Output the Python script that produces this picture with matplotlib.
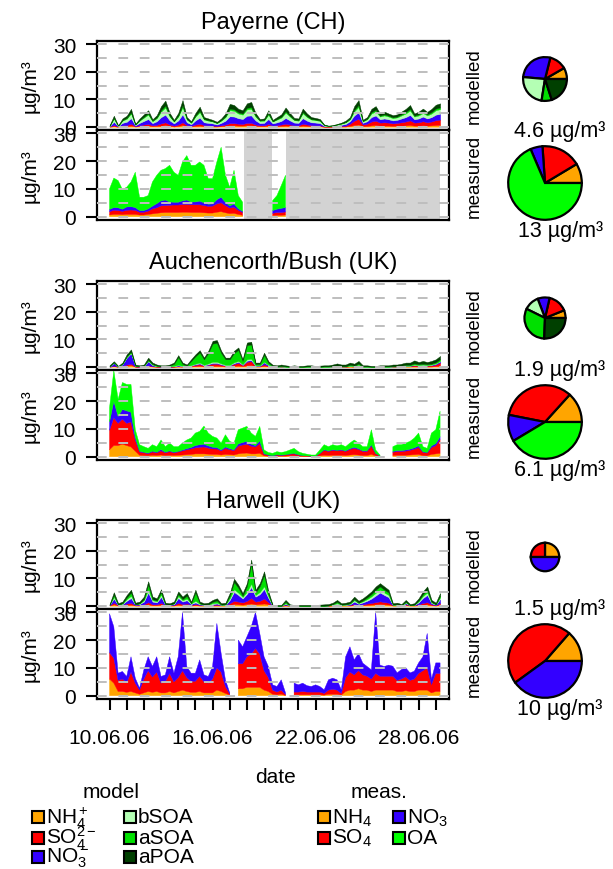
import numpy as np
import matplotlib
matplotlib.use("Agg")
import matplotlib.pyplot as plt
from matplotlib.patches import Rectangle

plt.rcParams['font.family'] = ['Liberation Sans', 'DejaVu Sans']
plt.rcParams['mathtext.fontset'] = 'custom'
plt.rcParams['mathtext.rm'] = 'Liberation Sans'
plt.rcParams['mathtext.it'] = 'Liberation Sans:italic'

nan = float('nan')

# -- time axis: 6-hourly values, day of June 2006
days = np.arange(10.0, 29.26, 0.25)
date_ticks = list(range(10, 30))
date_labels = {10: '10.06.06', 16: '16.06.06', 22: '22.06.06', 28: '28.06.06'}

sites = ['Payerne (CH)', 'Auchencorth/Bush (UK)', 'Harwell (UK)']

mod_names = ['NH$_4^+$', 'SO$_4^{2-}$', 'NO$_3^-$', 'bSOA', 'aSOA', 'aPOA']
mod_colors = ['#ffa500', '#ff0000', '#3300ff', '#b4ffb4', '#00e000', '#004000']
meas_names = ['NH$_4$', 'SO$_4$', 'NO$_3$', 'OA']
meas_colors = ['#ffa500', '#ff0000', '#3300ff', '#00ff00']

# -- Payerne, modelled (ug/m3)
pay_mod_nh4 = [0, .2, 0, .2, .2, .4, .1, .2, .3, .4, .2, .3, .4, .6, .3, .1, .3, .6, .2, .1,
               .3, .4, .2, .2, .1, .1, .2, .3, .5, .5, .4, .4, .5, .5, .3, .2, .2, .4, .1, .2,
               .3, .4, .3, .2, .2, .4, .3, .2, .2, .2, 0, 0, 0, .1, .1, .1, .3, .6, .8, .2,
               .3, .5, .6, .4, .4, .4, .3, .4, .4, .5, .6, .4, .4, .5, .4, .5, .6, .7]
pay_mod_so4 = [.1, .4, .1, .3, .4, .7, .1, .3, .5, .6, .3, .4, .8, 1.0, .5, .3, .5, 1.0, .4, .2,
               .5, .7, .4, .3, .3, .2, .3, .5, .8, .8, .7, .6, .9, .9, .5, .3, .3, .6, .3, .4,
               .5, .7, .5, .3, .3, .7, .5, .4, .3, .3, .1, .1, .1, .1, .2, .3, .8, 1.6, 2.1, .6,
               .8, 1.4, 1.6, 1.1, 1.2, 1.1, .9, 1.0, 1.2, 1.4, 1.7, 1.1, 1.2, 1.5, 1.2, 1.4, 1.8, 1.9]
pay_mod_no3 = [.1, 1.2, .1, .9, 1.2, 2.0, .3, .9, 1.3, 1.8, .8, 1.3, 2.3, 2.8, 1.5, .8, 1.5, 2.9, 1.0, .6,
               1.5, 2.2, 1.0, .9, .8, .5, .9, 1.4, 2.5, 2.4, 2.0, 1.8, 2.6, 2.7, 1.5, .8, .9, 1.8, .8, 1.0,
               1.3, 2.1, 1.5, 1.0, .9, 2.0, 1.4, 1.0, 1.0, .8, .2, .1, .1, .3, .4, .6, .9, 1.9, 2.4, .6,
               .9, 1.6, 1.9, 1.2, 1.4, 1.2, 1.1, 1.1, 1.4, 1.6, 2.0, 1.2, 1.4, 1.7, 1.4, 1.6, 2.0, 2.1]
pay_mod_bsoa = [.1, 1.1, .1, .8, 1.1, 1.7, .3, .8, 1.2, 1.6, .7, 1.1, 2.0, 2.6, 1.4, .7, 1.4, 2.6, 1.0, .5,
                1.4, 2.0, 1.0, .8, .7, .5, .8, 1.3, 2.2, 2.1, 1.7, 1.6, 2.3, 2.4, 1.4, .8, .8, 1.6, .7, 1.0,
                1.2, 1.9, 1.4, .9, .8, 1.8, 1.3, 1.0, .9, .8, .2, .1, .2, .3, .4, .6, .7, 1.5, 1.9, .5,
                .7, 1.3, 1.5, 1.0, 1.1, 1.0, .8, .9, 1.1, 1.3, 1.6, 1.0, 1.1, 1.3, 1.1, 1.3, 1.6, 1.7]
pay_mod_asoa = [0, .3, 0, .2, .3, .4, 0, .2, .3, .4, .2, .3, .5, .7, .3, .1, .3, .7, .2, .2,
                .3, .5, .2, .2, .1, .1, .2, .3, .6, .5, .4, .4, .6, .6, .3, .2, .2, .4, .1, .2,
                .3, .5, .3, .2, .2, .4, .3, .2, .2, .2, .1, 0, 0, 0, .1, .1, .2, .5, .7, .2,
                .2, .5, .5, .3, .4, .3, .3, .3, .4, .5, .6, .3, .4, .5, .4, .5, .6, .6]
pay_mod_apoa = [.2, .8, .2, .6, .8, 1.3, .2, .6, .9, 1.2, .5, .8, 1.5, 1.8, 1.0, .5, 1.0, 1.9, .7, .4,
                1.0, 1.5, .7, .6, .5, .4, .6, 1.0, 1.7, 1.6, 1.3, 1.2, 1.6, 1.9, 1.0, .5, .6, 1.2, .5, .7,
                .9, 1.4, 1.0, .6, .6, 1.3, 1.0, .7, .6, .5, .2, .1, .2, .2, .3, .5, .6, 1.4, 1.8, .4,
                .6, 1.2, 1.4, .8, 1.0, .8, .8, .8, 1.0, 1.2, 1.4, .8, 1.0, 1.1, .9, 1.2, 1.4, 1.5]

# -- Payerne, measured (nan = no data)
pay_meas_nh4 = ([.6, .8, .8, .7, .8, .8, .8, .6, .6, .8, 1.0, 1.2, 1.4, 1.5, 1.5, 1.5, 1.5, 1.6, 1.6, 1.5,
                 1.5, 1.5, 1.4, 1.3, 1.3, 1.6, 1.8, 1.4, 1.1, 1.2, .8, .5] + [nan] * 6
                + [.4, .5, .5, .6] + [nan] * 36)
pay_meas_so4 = ([1.2, 1.5, 1.4, 1.2, 1.5, 1.6, 1.5, 1.0, 1.0, 1.2, 1.8, 2.0, 2.5, 2.5, 2.6, 2.7, 2.7, 2.8, 2.8, 2.8,
                 2.8, 2.8, 2.6, 2.4, 2.5, 3.0, 3.2, 2.6, 2.0, 2.2, 1.5, 1.0] + [nan] * 6
                + [.8, 1.0, 1.0, 1.1] + [nan] * 36)
pay_meas_no3 = ([.8, 1.0, 1.0, .8, 1.2, 1.2, 1.0, .6, .6, .8, 1.0, 1.5, 1.8, 2.0, 1.2, 1.0, 1.0, 1.3, 1.6, 1.0,
                 1.0, 1.3, 1.0, .8, .8, 1.5, 2.0, 1.2, .8, 1.2, .6, .4] + [nan] * 6
                + [1.0, 1.2, 1.5, 1.6] + [nan] * 36)
pay_meas_oa = ([7.4, 10.6, 9.8, 7.1, 7.1, 8.9, 12.7, 4.8, 4.8, 4.8, 8.7, 10.2, 11.0, 11.3, 13.2, 10.8, 9.7, 14.0, 16.0, 13.2,
                13.2, 14.1, 13.5, 9.2, 9.1, 13.6, 18.0, 9.8, 6.7, 12.1, 4.7, 3.3] + [nan] * 6
               + [3.6, 4.9, 8.2, 11.6] + [nan] * 36)
pay_meas_gaps = [(17.85, 19.45), (20.3, 29.25)]

# -- Auchencorth/Bush, modelled
auc_mod_nh4 = [0, .2, 0, .1, .4, .6, 0, 0, 0, .2, .1, 0, 0, 0, 0, 0, .1, 0, 0, .1,
               .2, .3, .1, .2, .3, .3, .2, .1, .1, .3, .4, .2, .5, .6, .1, .1, .3, .1, 0, 0,
               0, 0, 0, 0, 0, 0, 0, 0, 0, 0, 0, 0, 0, 0, 0, 0, .1, 0, .1, 0,
               0, 0, 0, 0, 0, 0, 0, 0, 0, .1, .1, .1, .1, .1, .1, .1, .2, .3]
auc_mod_so4 = [0, .2, 0, .2, .4, .5, .1, 0, .1, .3, .1, .1, 0, 0, 0, .1, .2, .1, 0, .3,
               .5, .6, .3, .5, .8, .8, .5, .3, .3, .7, 1.0, .4, 1.3, 1.4, .2, .2, .6, .2, .1, 0,
               .1, 0, 0, 0, 0, 0, 0, 0, 0, 0, 0, 0, .1, .1, .1, .1, .2, .1, .2, 0,
               0, 0, 0, 0, 0, 0, .1, .1, .1, .2, .2, .4, .3, .4, .3, .4, .6, 1.2]
auc_mod_no3 = [.1, 1.0, 0, .6, 2.5, 3.8, .2, .1, .2, 1.5, .4, .1, .1, .1, .1, .1, .2, .1, .1, .1,
               .2, .3, .1, .2, .3, .3, .2, .1, .1, .3, .4, .1, .4, .4, .1, .1, .7, .3, 0, 0,
               0, 0, 0, 0, 0, 0, 0, 0, 0, 0, 0, 0, 0, .1, 0, 0, .1, .1, .3, 0,
               0, 0, 0, 0, 0, 0, 0, 0, .1, .1, .1, .2, .1, .2, .1, .2, .3, .5]
auc_mod_bsoa = [0, .1, 0, .1, .2, .2, 0, 0, 0, .2, .1, 0, 0, 0, .1, .1, .2, .1, .1, .1,
                .2, .3, .2, .3, .4, .4, .3, .2, .2, .3, .3, .2, .5, .5, .1, .1, .2, .1, 0, 0,
                0, 0, 0, 0, 0, 0, 0, 0, 0, 0, 0, 0, 0, 0, 0, 0, 0, 0, .1, 0,
                0, 0, 0, 0, 0, 0, 0, 0, 0, 0, 0, .1, .1, .1, .1, .1, .1, .1]
auc_mod_asoa = [.1, .1, .1, .1, .3, .4, .1, .1, .1, .3, .3, .2, .1, .1, .2, .7, 2.8, .7, .2, 1.5,
                2.7, 3.7, 2.0, 3.8, 6.6, 6.9, 3.8, 2.0, 2.0, 3.4, 4.0, 1.2, 5.1, 5.2, .5, .5, 2.5, .7, .2, .1,
                .2, .1, 0, .1, 0, 0, .1, .1, 0, 0, .1, .1, .1, .2, .1, .1, .3, .2, .4, .1,
                .1, 0, 0, .1, .1, .1, .1, .1, .2, .3, .3, .4, .3, .3, .3, .3, .4, .6]
auc_mod_apoa = [.3, .4, .2, .4, .7, .8, .4, .3, .4, .8, .5, .4, .3, .3, .4, .5, .7, .5, .4, .6,
                .7, .8, .6, .8, 1.0, 1.0, .8, .6, .6, .8, .9, .6, 1.0, 1.0, .5, .5, .8, .6, .4, .4,
                .5, .4, .3, .4, .3, .3, .4, .4, .3, .4, .4, .4, .6, .8, .6, .6, .8, .7, 1.0, .4,
                .4, .3, .3, .4, .4, .4, .6, .6, .7, .8, .8, 1.1, .8, 1.0, .8, 1.0, 1.1, 1.2]

# -- Auchencorth/Bush, measured
auc_meas_nh4 = [2.5, 4.0, 4.0, 4.5, 4.0, 3.5, 2.0, .5, .4, .3, .5, .4, .6, .4, .5, .4, .5, .6, .7, .8,
                1.0, 1.0, 1.0, .9, .8, .8, .6, .8, .7, .6, 1.0, 1.2, 1.3, 1.0, 1.0, 1.2, .3, .2, .1, .2,
                .2, .2, .3, .3, .2, .1, .1, .1, .1, .3, .5, .4, .5, .5, .5, .4, .6, .7, .6, .4,
                .4, .8, .3, .1, nan, nan, .4, .5, .5, .5, .6, .7, .8, .4, .3, .8, 1.0, 1.2]
auc_meas_so4 = [7.0, 10.0, 8.0, 9.0, 8.0, 9.0, 4.0, 1.2, 1.0, .8, 1.2, 1.0, 1.5, 1.0, 1.3, 1.0, 1.2, 1.5, 1.8, 2.0,
                2.2, 2.4, 2.5, 2.2, 2.0, 2.0, 1.5, 2.2, 1.8, 1.6, 2.8, 3.0, 3.2, 2.8, 2.5, 3.5, .6, .3, .2, .4,
                .3, .4, .6, .7, .4, .2, .2, .1, .1, .8, 1.8, 1.5, 1.8, 1.6, 1.8, 1.5, 2.0, 2.3, 2.0, 1.5,
                1.5, 3.0, .8, .2, nan, nan, 1.2, 1.4, 1.4, 1.5, 1.7, 2.0, 2.5, 1.2, 1.0, 2.5, 3.0, 5.0]
auc_meas_no3 = [3.0, 6.0, 2.5, 3.5, 4.5, 3.5, 1.0, .3, .2, .2, .3, .2, .5, .2, .3, .2, .2, .3, .4, .5,
                .8, .9, 1.0, .8, .6, .5, .3, .5, .4, .3, .8, .9, 1.0, .7, .5, 1.0, .2, .1, .1, .1,
                .1, .1, .1, .2, .1, .1, 0, 0, 0, .1, .2, .2, .2, .2, .2, .2, .3, .4, .3, .2,
                .2, .5, .1, 0, nan, nan, .3, .3, .3, .4, .4, .5, .6, .2, .2, .6, .7, 1.0]
auc_meas_oa = [5.1, 11.0, 6.1, 9.7, 9.5, 10.0, 2.7, 2.3, 2.0, 1.7, 2.3, 2.0, 3.4, 2.0, 2.8, 2.0, 1.7, 2.5, 3.1, 3.4,
               4.5, 4.8, 6.5, 4.6, 3.9, 3.4, 2.5, 4.4, 2.6, 2.4, 5.1, 5.2, 5.4, 4.0, 3.3, 5.2, 1.3, .9, .8, 1.1,
               .9, 1.1, 1.4, 1.8, 1.1, .8, .6, .4, .4, 1.2, 1.8, 1.5, 1.8, 1.6, 1.8, 1.5, 2.0, 2.6, 2.0, 1.5,
               1.5, 5.4, 1.2, .3, nan, nan, 1.7, 2.1, 2.1, 2.5, 2.8, 3.5, 4.6, 1.8, 1.5, 4.6, 5.0, 9.2]

# -- Harwell, modelled
har_mod_nh4 = [.1, .5, .1, .1, .3, .4, .1, .1, .2, .5, .2, .2, .4, .1, .1, .1, .4, .2, .3, .1,
               .2, .1, .1, .1, .1, .1, .1, .1, .3, .6, .5, .4, .6, .8, .5, .6, .8, .5, 0, 0,
               0, .1, 0, 0, 0, 0, 0, 0, 0, 0, 0, 0, .1, .1, .1, .1, .1, .2, .1, .2,
               .3, .4, .5, .6, .5, .4, .1, .1, .1, .2, .1, .1, .2, .4, .5, .2, .1, .3]
har_mod_so4 = [.1, .6, .1, .2, .5, .6, .1, .2, .3, .8, .3, .3, .6, .1, .1, .2, .6, .4, .5, .2,
               .4, .2, .1, .1, .2, .3, .1, .1, .6, 1.2, 1.0, .8, 1.2, 2.0, 1.0, 1.2, 1.8, .8, 0, 0,
               0, .2, 0, 0, 0, 0, 0, 0, 0, 0, 0, .1, .2, .3, .1, .1, .2, .4, .2, .3,
               .5, .6, .8, 1.0, .8, .7, .1, .1, .1, .3, .1, .1, .3, .6, .8, .3, .1, .6]
har_mod_no3 = [.1, 1.5, .1, .3, 1.0, 1.8, .2, .3, 1.0, 3.5, 1.0, .7, 2.2, .2, .1, .3, 1.8, .9, 1.2, .3,
               .6, .2, .1, .1, .3, .4, .1, .1, 1.2, 3.2, 2.4, 1.4, 2.5, 4.0, 1.8, 2.4, 3.5, 1.5, 0, 0,
               0, .4, 0, 0, 0, 0, 0, 0, 0, 0, 0, 0, .1, .2, .1, .1, .2, .9, .4, .7,
               1.0, 1.6, 2.4, 3.2, 2.6, 2.0, .1, .1, 0, .4, 0, .1, .7, 1.8, 2.6, .4, .2, 1.5]
har_mod_bsoa = [0, .6, .1, .2, .6, .8, .1, .2, .5, 1.0, .5, .4, .8, .1, .1, .2, .7, .5, .6, .2,
                .6, .2, .1, .1, .3, .3, .1, .1, .6, 1.0, .8, .6, .8, 1.2, .6, .8, 1.0, .6, 0, 0,
                0, .2, 0, 0, 0, 0, 0, 0, 0, 0, 0, 0, .1, .3, .1, .1, .2, .5, .3, .4,
                .6, .8, 1.0, 1.0, .9, .8, .1, .1, 0, .3, 0, .1, .4, .7, .9, .3, .1, .6]
har_mod_asoa = [0, .7, 0, .1, .6, 1.2, 0, .1, .4, 1.9, .4, .3, .9, 0, 0, .1, .7, .4, 1.0, .1,
                3.0, .2, 0, .1, .5, .8, 0, .1, .9, 2.6, 1.8, .4, 2.0, 7.4, .9, 2.1, 4.1, .8, 0, 0,
                0, .5, 0, 0, 0, 0, 0, 0, 0, 0, 0, 0, .1, .5, 0, .1, .2, .4, .1, .3,
                .6, .8, 1.1, 1.2, 1.0, .9, 0, .1, 0, .2, 0, 0, .3, .7, 1.0, .2, 0, .6]
har_mod_apoa = [.3, 1.0, .5, .6, .9, 1.0, .6, .6, .9, 1.2, .9, .8, 1.1, .6, .5, .6, 1.0, .9, 1.0, .6,
                1.0, .6, .5, .6, .7, .8, .5, .6, 1.0, 1.2, 1.1, 1.0, 1.1, 1.4, 1.0, 1.1, 1.3, 1.0, .3, .3,
                .3, .7, .5, .3, .3, .3, .3, .3, .3, .4, .5, .5, .5, .7, .5, .6, .6, .9, .7, .8,
                .9, 1.0, 1.2, 1.2, 1.2, 1.0, .5, .6, .4, .7, .4, .5, .8, 1.0, 1.2, .7, .6, 1.0]

# -- Harwell, measured (no OA)
har_meas_nh4 = [6.0, 4.5, 1.5, 1.5, 1.2, 1.5, 1.0, .5, 1.0, 1.5, 1.2, 1.5, 1.0, 1.0, 1.5, 1.0, 1.5, 2.0, 1.5, 1.2,
                1.2, 1.5, 1.0, 1.0, 1.0, 2.0, 1.5, .8, .2, nan, 2.5, 2.5, 3.0, 3.0, 3.0, 3.0, 2.0, 1.5, .5, .3,
                .5, .1, nan, .3, .3, .3, .3, .3, .3, .3, .2, .5, .5, .5, .2, 1.5, 2.0, 2.0, 2.5, 2.0,
                2.0, 1.5, 2.0, 2.0, 2.0, 2.0, 2.0, 1.5, 1.5, 1.8, 1.5, 1.5, 2.0, 2.0, 2.0, 1.0, 1.5, 1.5]
har_meas_so4 = [9.5, 9.0, 4.0, 4.5, 3.5, 7.0, 3.5, 1.5, 5.0, 7.5, 5.5, 7.0, 3.5, 4.0, 6.5, 4.0, 5.0, 7.0, 5.0, 4.0,
                4.0, 5.5, 4.0, 3.5, 5.0, 8.0, 7.0, 2.5, .4, nan, 9.0, 9.0, 11.0, 12.0, 14.0, 12.0, 7.0, 5.0, 1.5, 1.0,
                1.5, .3, nan, 1.0, 1.0, 1.2, 1.0, 1.0, 1.0, 1.0, .6, 1.5, 1.8, 1.5, .6, 5.0, 6.5, 5.5, 6.5, 5.5,
                5.0, 4.5, 6.0, 5.0, 5.0, 5.0, 5.0, 4.0, 4.5, 5.0, 4.0, 4.5, 6.0, 7.0, 8.0, 3.0, 6.5, 6.5]
har_meas_no3 = [14.0, 11.3, 2.6, 2.7, 2.2, 5.5, 1.8, .7, 3.3, 5.0, 3.8, 5.5, 2.4, 2.5, 6.0, 3.1, 7.5, 21.0, 4.0, 2.9,
                2.9, 5.9, 2.5, 2.4, 4.5, 16.0, 6.7, 2.4, .4, nan, 8.5, 6.1, 7.2, 9.8, 13.0, 7.4, 5.0, 4.0, 1.9, 2.0,
                3.7, .6, nan, 3.2, 2.6, 3.0, 2.3, 2.0, 2.6, 2.0, 1.3, 3.7, 4.0, 3.7, 1.3, 7.5, 9.1, 5.4, 6.2, 4.2,
                3.5, 3.3, 22.0, 4.0, 3.5, 4.0, 3.6, 2.7, 3.4, 3.2, 2.7, 2.8, 3.8, 5.0, 12.4, 1.9, 3.8, 3.8]

# -- campaign means: pie fractions (from east, counter-clockwise) and totals
pie_mod = [[.083, .128, .275, .239, .075, .200],
           [.061, .153, .094, .119, .317, .256],
           [.25, .25, .50]]
pie_meas = [[.086, .175, .053, .686],
            [.133, .336, .117, .414],
            [.136, .464, .400]]
total_mod = [4.6, 1.9, 1.5]
total_meas = [13, 6.1, 10]

mod_series = [
    [pay_mod_nh4, pay_mod_so4, pay_mod_no3, pay_mod_bsoa, pay_mod_asoa, pay_mod_apoa],
    [auc_mod_nh4, auc_mod_so4, auc_mod_no3, auc_mod_bsoa, auc_mod_asoa, auc_mod_apoa],
    [har_mod_nh4, har_mod_so4, har_mod_no3, har_mod_bsoa, har_mod_asoa, har_mod_apoa],
]
meas_series = [
    [pay_meas_nh4, pay_meas_so4, pay_meas_no3, pay_meas_oa],
    [auc_meas_nh4, auc_meas_so4, auc_meas_no3, auc_meas_oa],
    [har_meas_nh4, har_meas_so4, har_meas_no3],
]
meas_gaps = [pay_meas_gaps, [], []]

# -- layout (pixels)
W, H = 613, 870
fig = plt.figure(figsize=(W / 100, H / 100), dpi=100)


def px_axes(x0, y0, w, h):
    return fig.add_axes([x0 / W, 1 - (y0 + h) / H, w / W, h / H])


def style_panel(ax):
    ax.set_xlim(9.27, 29.77)
    ax.set_ylim(-1.2, 31.2)
    ax.set_yticks([0, 10, 20, 30])
    ax.set_yticks([5, 15, 25], minor=True)
    ax.tick_params(axis='y', which='major', direction='out', length=8, width=1.5,
                   labelsize=15, pad=7)
    ax.tick_params(axis='y', which='minor', length=0)
    ax.grid(axis='y', which='both', color='#bebebe', linestyle=(0, (5, 6)), linewidth=1.4)
    ax.set_axisbelow(False)
    for sp in ax.spines.values():
        sp.set_linewidth(1.6)
    ax.tick_params(axis='x', bottom=False, labelbottom=False)


left, pw = 97, 352
tops = [42, 282, 521]
pie_cx = 545
pie_cy = [(80, 184), (319, 423), (558, 662)]
pie_px = 92

for k, site in enumerate(sites):
    top = tops[k]

    axm = px_axes(left, top, pw, 89)
    axm.stackplot(days, *mod_series[k], colors=mod_colors, linewidth=0.3, edgecolor='face')
    style_panel(axm)

    axs = px_axes(left, top + 89, pw, 90)
    for a, b in meas_gaps[k]:
        axs.axvspan(a, b, color='#d3d3d3', lw=0, zorder=0.5)
    axs.stackplot(days, *meas_series[k], colors=meas_colors[:len(meas_series[k])],
                  linewidth=0.3, edgecolor='face')
    style_panel(axs)

    fig.text((left + pw / 2) / W, 1 - (top - 19) / H, site, ha='center', va='center', fontsize=17)
    fig.text(30 / W, 1 - (top + 44) / H, 'µg/m³', rotation=90, ha='center', va='center', fontsize=15)
    fig.text(30 / W, 1 - (top + 134) / H, 'µg/m³', rotation=90, ha='center', va='center', fontsize=15)
    fig.text(474 / W, 1 - (top + 44) / H, 'modelled', rotation=90, ha='center', va='center', fontsize=13.5)
    fig.text(474 / W, 1 - (top + 134) / H, 'measured', rotation=90, ha='center', va='center', fontsize=13.5)

    # pies, area scaled to the measured mean
    for j, (fr, cols, tot) in enumerate([
            (pie_mod[k], mod_colors, total_mod[k]),
            (pie_meas[k], meas_colors, total_meas[k])]):
        cy = pie_cy[k][j]
        pa = px_axes(pie_cx - pie_px / 2, cy - pie_px / 2, pie_px, pie_px)
        r = np.sqrt(tot / total_meas[k])
        pa.pie(fr, colors=cols[:len(fr)], radius=r, startangle=0, counterclock=True,
               wedgeprops=dict(edgecolor='black', linewidth=1.6))
        pa.set_xlim(-1.25, 1.25)
        pa.set_ylim(-1.25, 1.25)
        fig.text(560 / W, 1 - (cy + (52 if j == 0 else 48)) / H, f'{tot:g} µg/m³',
                 ha='center', va='center', fontsize=15.5)

# date axis on the last panel
axs.set_xticks(date_ticks)
axs.set_xticklabels([date_labels.get(d, '') for d in date_ticks])
axs.tick_params(axis='x', bottom=True, labelbottom=True, direction='out', length=8,
                width=1.5, labelsize=15, pad=13)

fig.text(275 / W, 1 - 778 / H, 'date', ha='center', va='center', fontsize=15)

# -- legend
lg = fig.add_axes([0, 0, 1, 1])
lg.set_xlim(0, W)
lg.set_ylim(H, 0)
lg.axis('off')

lg.text(111, 793, 'model', ha='center', va='center', fontsize=15)
lg.text(379, 793, 'meas.', ha='center', va='center', fontsize=15)
rows = [818, 838.5, 858]
for i, (name, col) in enumerate(zip(mod_names, mod_colors)):
    x = 38 if i < 3 else 130
    y = rows[i % 3]
    lg.add_patch(Rectangle((x - 6, y - 6), 12, 12, fc=col, ec='black', lw=1.5))
    lg.text(x + 8, y, name, ha='left', va='center', fontsize=15)
for i, (name, col) in enumerate(zip(meas_names, meas_colors)):
    x = 324 if i in (0, 1) else 399
    y = rows[i % 2]
    lg.add_patch(Rectangle((x - 6, y - 6), 12, 12, fc=col, ec='black', lw=1.5))
    lg.text(x + 8, y, name, ha='left', va='center', fontsize=15)

fig.savefig('out.png', dpi=100)
